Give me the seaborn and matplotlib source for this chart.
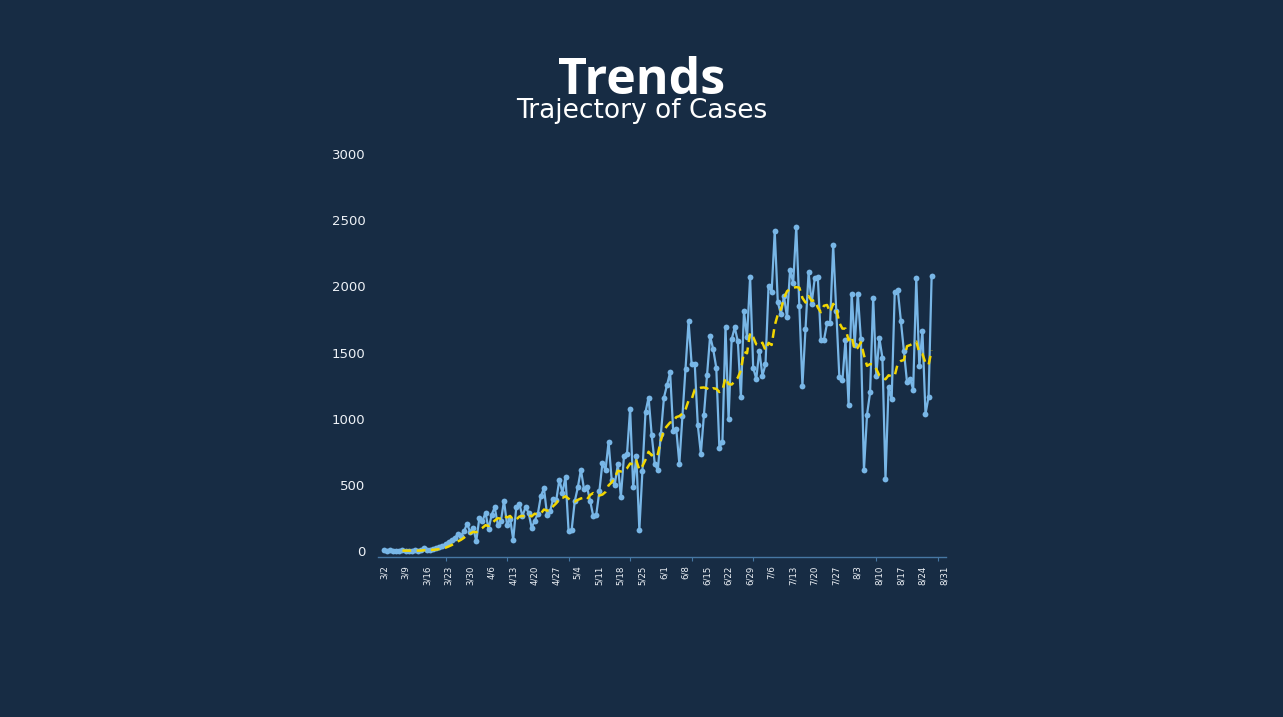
import pandas as pd
import matplotlib
matplotlib.use('Agg')
import matplotlib.pyplot as plt
import seaborn as sns

# --- Data: daily new cases ---
start_date = '2020-03-02'
daily_cases = [
    5, 2, 4, 1, 3, 2, 4, 1, 3, 2, 5, 3, 6,                       # 3/2 - 3/14
    22, 4, 10, 15, 20, 30, 40, 55, 70, 85, 100, 125, 115, 150,    # 3/15 - 3/28
    205, 145, 175, 75, 250, 225, 290, 165, 275, 330, 200, 225,    # 3/29 - 4/9
    380, 200, 245, 85, 330, 355, 265, 330, 290, 175, 230, 280,    # 4/10 - 4/21
    415, 475, 275, 300, 395, 385, 540, 440, 560, 150, 160,        # 4/22 - 5/2
    375, 480, 615, 470, 480, 380, 265, 275, 450, 665, 610, 825,   # 5/3 - 5/14
    540, 500, 655, 410, 715, 735, 1075, 480, 720, 160, 605, 1050, # 5/15 - 5/26
    1160, 880, 660, 610, 885, 1160, 1255, 1350, 905, 920, 660,    # 5/27 - 6/6
    1020, 1375, 1735, 1410, 1415, 950, 735, 1030, 1330, 1625,     # 6/7 - 6/16
    1525, 1385, 780, 825, 1695, 995, 1600, 1690, 1585, 1165,      # 6/17 - 6/26
    1810, 1615, 2070, 1385, 1300, 1515, 1325, 1410, 2005, 1960,   # 6/27 - 7/6
    2415, 1880, 1790, 1925, 1765, 2125, 2025, 2450, 1850, 1250,   # 7/7 - 7/16
    1680, 2105, 1870, 2060, 2070, 1595, 1595, 1720, 1725, 2310,   # 7/17 - 7/26
    1810, 1315, 1290, 1595, 1105, 1945, 1560, 1945, 1600, 610,    # 7/27 - 8/5
    1030, 1200, 1915, 1325, 1610, 1460, 545, 1240, 1145, 1955,    # 8/6 - 8/15
    1970, 1740, 1510, 1275, 1300, 1220, 2060, 1395, 1665, 1035,   # 8/16 - 8/25
    1165, 2080,                                                   # 8/26 - 8/27
]
tick_labels = ['3/2', '3/9', '3/16', '3/23', '3/30', '4/6', '4/13', '4/20',
               '4/27', '5/4', '5/11', '5/18', '5/25', '6/1', '6/8', '6/15',
               '6/22', '6/29', '7/6', '7/13', '7/20', '7/27', '8/3', '8/10',
               '8/17', '8/24', '8/31']
y_ticks = [0, 500, 1000, 1500, 2000, 2500, 3000]

# --- Colours ---
bg_color = '#172c44'
case_color = '#78b6e6'
avg_color = '#f2d600'
axis_color = '#4677a3'
text_color = '#eef2f7'

# --- Data prep ---
df = pd.DataFrame({
    'date': pd.date_range(start_date, periods=len(daily_cases), freq='D'),
    'cases': daily_cases,
})
# 7-day trailing average (yellow dashed line)
df['avg7'] = df['cases'].rolling(7).mean()
tick_dates = pd.date_range(start_date, periods=len(tick_labels), freq='7D')

# --- Plotting ---
sns.set_theme(style='dark')
plt.rcParams['font.family'] = ['DejaVu Sans']

fig = plt.figure(figsize=(12.83, 7.17), dpi=100, facecolor=bg_color)
ax = fig.add_axes([0.2946, 0.2232, 0.4427, 0.5620])
ax.set_facecolor(bg_color)

sns.lineplot(data=df, x='date', y='cases', ax=ax, color=case_color,
             linewidth=1.6, marker='o', markersize=4.2, markeredgewidth=0,
             zorder=2)
sns.lineplot(data=df, x='date', y='avg7', ax=ax, color=avg_color,
             linewidth=1.8, linestyle=(0, (3.5, 2.2)), zorder=3)

# axes ranges
x0 = pd.Timestamp(start_date)
ax.set_xlim(x0 - pd.Timedelta(days=1.95), tick_dates[-1] + pd.Timedelta(days=0.65))
ax.set_ylim(-45, 3000)

# x axis: weekly labels, sparse small tick marks
ax.set_xticks(tick_dates)
ax.set_xticklabels(tick_labels, rotation=90, fontsize=6.2, color=text_color)
ax.set_xticks(pd.date_range(start_date, periods=10, freq='20D'), minor=True)
ax.tick_params(axis='x', which='major', length=0, pad=6)
ax.tick_params(axis='x', which='minor', length=3, width=0.8, color=axis_color,
               direction='out', bottom=True)

# y axis: labels only
ax.set_yticks(y_ticks)
ax.set_yticklabels([str(v) for v in y_ticks], fontsize=9.5, color=text_color)
ax.tick_params(axis='y', length=0, pad=9)

ax.set_xlabel('')
ax.set_ylabel('')
ax.grid(False)
for side in ['top', 'right', 'left']:
    ax.spines[side].set_visible(False)
ax.spines['bottom'].set_color(axis_color)
ax.spines['bottom'].set_linewidth(1.0)

# titles (baseline anchored so the two lines sit tight like the original)
fig.text(0.5, 1 - 94 / 717, 'Trends', ha='center', va='baseline',
         fontsize=36, fontweight='bold', color='white',
         family=['Open Sans', 'DejaVu Sans'])
fig.text(0.5, 1 - 118 / 717, 'Trajectory of Cases', ha='center', va='baseline',
         fontsize=19, color='white', family=['DejaVu Sans'])

fig.savefig('out.png', dpi=100, facecolor=bg_color)
